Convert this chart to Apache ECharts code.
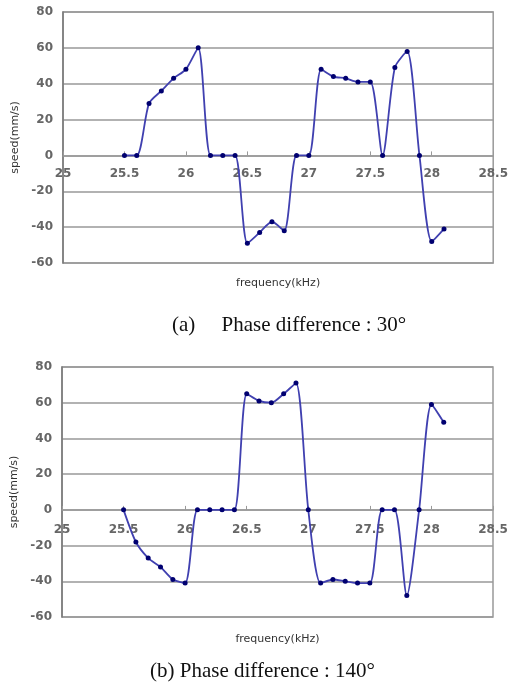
<!DOCTYPE html>
<html>
<head>
<meta charset="utf-8">
<script src="https://cdn.jsdelivr.net/npm/echarts@6/dist/echarts.min.js"></script>
<style>
  html, body { margin: 0; padding: 0; background: #fff; }
  #main { width: 511px; height: 684px; }
</style>
</head>
<body>
<div id="main"></div>
<script>
// frequency points (kHz)
const freqA = [25.5, 25.6, 25.7, 25.8, 25.9, 26.0, 26.1, 26.2, 26.3, 26.4, 26.5, 26.6, 26.7, 26.8,
  26.9, 27.0, 27.1, 27.2, 27.3, 27.4, 27.5, 27.6, 27.7, 27.8, 27.9, 28.0, 28.1]
const freqB = [25.5, 25.6, 25.7, 25.8, 25.9, 26.0, 26.1, 26.2, 26.3, 26.4, 26.5, 26.6, 26.7, 26.8,
  26.9, 27.0, 27.1, 27.2, 27.3, 27.4, 27.5, 27.6, 27.7, 27.8, 27.9, 28.0, 28.1]
// speed (mm/s)
const speedA = [0, 0, 29, 36, 43, 48, 60, 0, 0, 0, -49, -43, -37, -42,
  0, 0, 48, 44, 43, 41, 41, 0, 49, 58, 0, -48, -41]
const speedB = [0, -18, -27, -32, -39, -41, 0, 0, 0, 0, 65, 61, 60, 65,
  71, 0, -41, -39, -40, -41, -41, 0, 0, -48, 0, 59, 49]

const captions = ['(a)     Phase difference : 30°', '(b) Phase difference : 140°']

const chart = echarts.init(document.getElementById('main'))

const gridColor = '#999'
const axisColor = '#777'
const labelStyle = { color: '#666', fontSize: 12, fontWeight: 'bold', fontFamily: 'DejaVu Sans' }

// x axis is drawn on the zero line: shift it up from the grid bottom with offset
function xAxisFor(idx, offset, labelMargin, nameGap) {
  return {
    type: 'value',
    gridIndex: idx,
    min: 25,
    max: 28.5,
    interval: 0.5,
    offset: offset,
    name: 'frequency(kHz)',
    nameLocation: 'middle',
    nameGap: nameGap,
    nameTextStyle: { color: '#333', fontSize: 11, fontFamily: 'DejaVu Sans' },
    axisLine: { show: true, onZero: false, lineStyle: { color: gridColor, width: 1.5 } },
    axisTick: { show: true, inside: true, length: 4, lineStyle: { color: gridColor } },
    axisLabel: Object.assign({ margin: labelMargin }, labelStyle),
    splitLine: { show: false }
  }
}

function yAxisFor(idx) {
  return {
    type: 'value',
    gridIndex: idx,
    min: -60,
    max: 80,
    interval: 20,
    name: 'speed(mm/s)',
    nameLocation: 'middle',
    nameGap: 40,
    nameTextStyle: { color: '#333', fontSize: 11, fontFamily: 'DejaVu Sans' },
    axisLine: { show: true, lineStyle: { color: axisColor, width: 1.5 } },
    axisTick: { show: false },
    axisLabel: Object.assign({ margin: 10 }, labelStyle),
    splitLine: { show: true, lineStyle: { color: gridColor, width: 1.5 } }
  }
}

function seriesFor(idx, xs, ys) {
  return {
    type: 'line',
    xAxisIndex: idx,
    yAxisIndex: idx,
    data: xs.map((x, i) => [x, ys[i]]),
    smooth: 0.25,
    symbol: 'circle',
    symbolSize: 5,
    itemStyle: { color: '#000070' },
    lineStyle: { color: '#4040b0', width: 1.8 },
    animation: false
  }
}

const captionStyle = { fontFamily: 'Liberation Serif', fontSize: 21, fontWeight: 'normal', color: '#111' }

const option = {
  backgroundColor: '#fff',
  animation: false,
  title: [
    { text: captions[0], left: 172, top: 315, padding: 0, textStyle: captionStyle },
    { text: captions[1], left: 150, top: 661, padding: 0, textStyle: captionStyle }
  ],
  grid: [
    { left: 63, right: 14, top: 12, height: 251, show: true, borderColor: gridColor, borderWidth: 1.5 },
    { left: 62, right: 18, top: 367, height: 250, show: true, borderColor: gridColor, borderWidth: 1.5 }
  ],
  xAxis: [xAxisFor(0, -107.6, 12, 122), xAxisFor(1, -107.1, 14, 124)],
  yAxis: [yAxisFor(0), yAxisFor(1)],
  series: [seriesFor(0, freqA, speedA), seriesFor(1, freqB, speedB)]
}

chart.setOption(option)
</script>
</body>
</html>
